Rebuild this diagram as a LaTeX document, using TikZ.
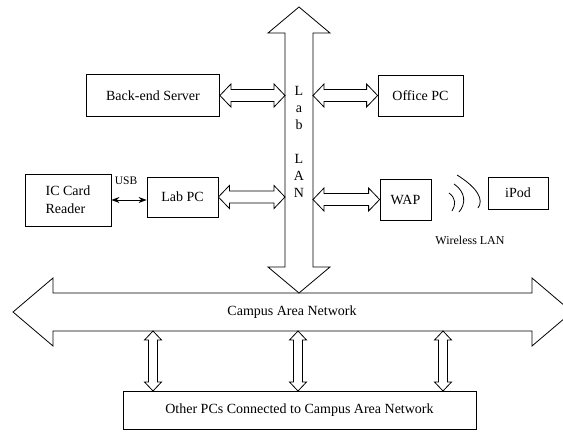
\documentclass[tikz,border=0pt]{standalone}
\usepackage{fontspec}
\setmainfont{Liberation Serif}
\usetikzlibrary{calc,arrows.meta}

% Hollow double-headed block arrow from #1 to #2:
% #3 head length, #4 half width of the heads, #5 half width of the shaft
\newcommand\blockdbl[5]{%
  \draw[blockarrow] (#1)
    -- ($($(#1)!#3!(#2)$)!#4!90:(#2)$)
    -- ($($(#1)!#3!(#2)$)!#5!90:(#2)$)
    -- ($($(#2)!#3!(#1)$)!#5!-90:(#1)$)
    -- ($($(#2)!#3!(#1)$)!#4!-90:(#1)$)
    -- (#2)
    -- ($($(#2)!#3!(#1)$)!#4!90:(#1)$)
    -- ($($(#2)!#3!(#1)$)!#5!90:(#1)$)
    -- ($($(#1)!#3!(#2)$)!#5!-90:(#2)$)
    -- ($($(#1)!#3!(#2)$)!#4!-90:(#2)$)
    -- cycle;}

\tikzset{
  box/.style={draw, line width=0.8pt, inner sep=0pt, align=center,
              font=\fontsize{14}{18}\selectfont},
  blockarrow/.style={draw, line width=0.8pt, fill=white, line join=miter},
  lbl/.style={inner sep=0pt, font=\fontsize{12}{14}\selectfont},
  wave/.style={line width=0.8pt},
}

\begin{document}
\begin{tikzpicture}[x=1pt, y=-1pt]
  \clip (0,0) rectangle (563,432);
  \fill[white] (0,0) rectangle (563,432);

  % Lab LAN backbone (vertical) and campus network (horizontal)
  \coordinate (lanTop) at (299,7);
  \coordinate (lanBot) at (299,293);
  \coordinate (lanW) at (285,0);
  \coordinate (lanE) at (313,0);
  \coordinate (canW) at (13,312);
  \coordinate (canE) at (572,312);
  \blockdbl{canW}{canE}{40pt}{34pt}{19pt}
  \blockdbl{lanTop}{lanBot}{26pt}{31pt}{14pt}

  \node[inner sep=0pt, align=center, font=\fontsize{14}{17}\selectfont] (lanlbl) at (299,142)
    {L\\a\\b\\[17pt]L\\A\\N};
  \node[inner sep=0pt, font=\fontsize{14}{16}\selectfont] (canlbl) at (292,312) {Campus Area Network};

  % Devices
  \node[box, minimum width=133pt, minimum height=42pt] (srv) at (153,95.5) {Back-end Server};
  \node[box, minimum width=85pt, minimum height=41pt] (office) at (420.5,95.5) {Office PC};
  \node[box, minimum width=86pt, minimum height=52pt, align=left] (icr) at (68,200) {IC Card\\Reader};
  \node[box, minimum width=71pt, minimum height=40pt] (labpc) at (182.5,197) {Lab PC};
  \node[box, minimum width=51pt, minimum height=41pt] (wap) at (405.5,199.5) {WAP};
  \node[box, minimum width=60pt, minimum height=32pt] (ipod) at (518,193) {iPod};
  \node[box, minimum width=353pt, minimum height=38pt] (other) at (299.5,410) {Other PCs Connected to Campus Area Network};

  % Links to the lab LAN
  \blockdbl{srv.east}{srv.east -| lanW}{11pt}{11.5pt}{6pt}
  \blockdbl{office.west -| lanE}{office.west}{11pt}{11.5pt}{6pt}
  \blockdbl{labpc.east}{labpc.east -| lanW}{11pt}{11.5pt}{6pt}
  \blockdbl{wap.west -| lanE}{wap.west}{11pt}{11.5pt}{6pt}

  % USB link
  \draw[line width=1pt, {Stealth[length=8pt,width=6pt]}-{Stealth[length=8pt,width=6pt]}]
    (icr.east) -- (labpc.west |- icr.east);
  \node[lbl, font=\fontsize{11.5}{13}\selectfont] (usb) at (126,181) {USB};

  % Wireless link
  \draw[wave] (449,193) .. controls (456,198) and (456,205) .. (452,211);
  \draw[wave] (454,184) .. controls (466,192) and (466,204) .. (459,212);
  \draw[wave] (457,175) .. controls (478,188) and (484,200) .. (478,208);
  \node[lbl] (wlan) at (470,240) {Wireless LAN};

  % Campus links to other PCs
  \foreach \x/\n in {153/a,298/b,443/c}{
    \coordinate (cu\n) at (\x,331);
    \coordinate (cd\n) at (\x,391);
    \blockdbl{cu\n}{cd\n}{9pt}{8.5pt}{4.5pt}
  }
\end{tikzpicture}
\end{document}
